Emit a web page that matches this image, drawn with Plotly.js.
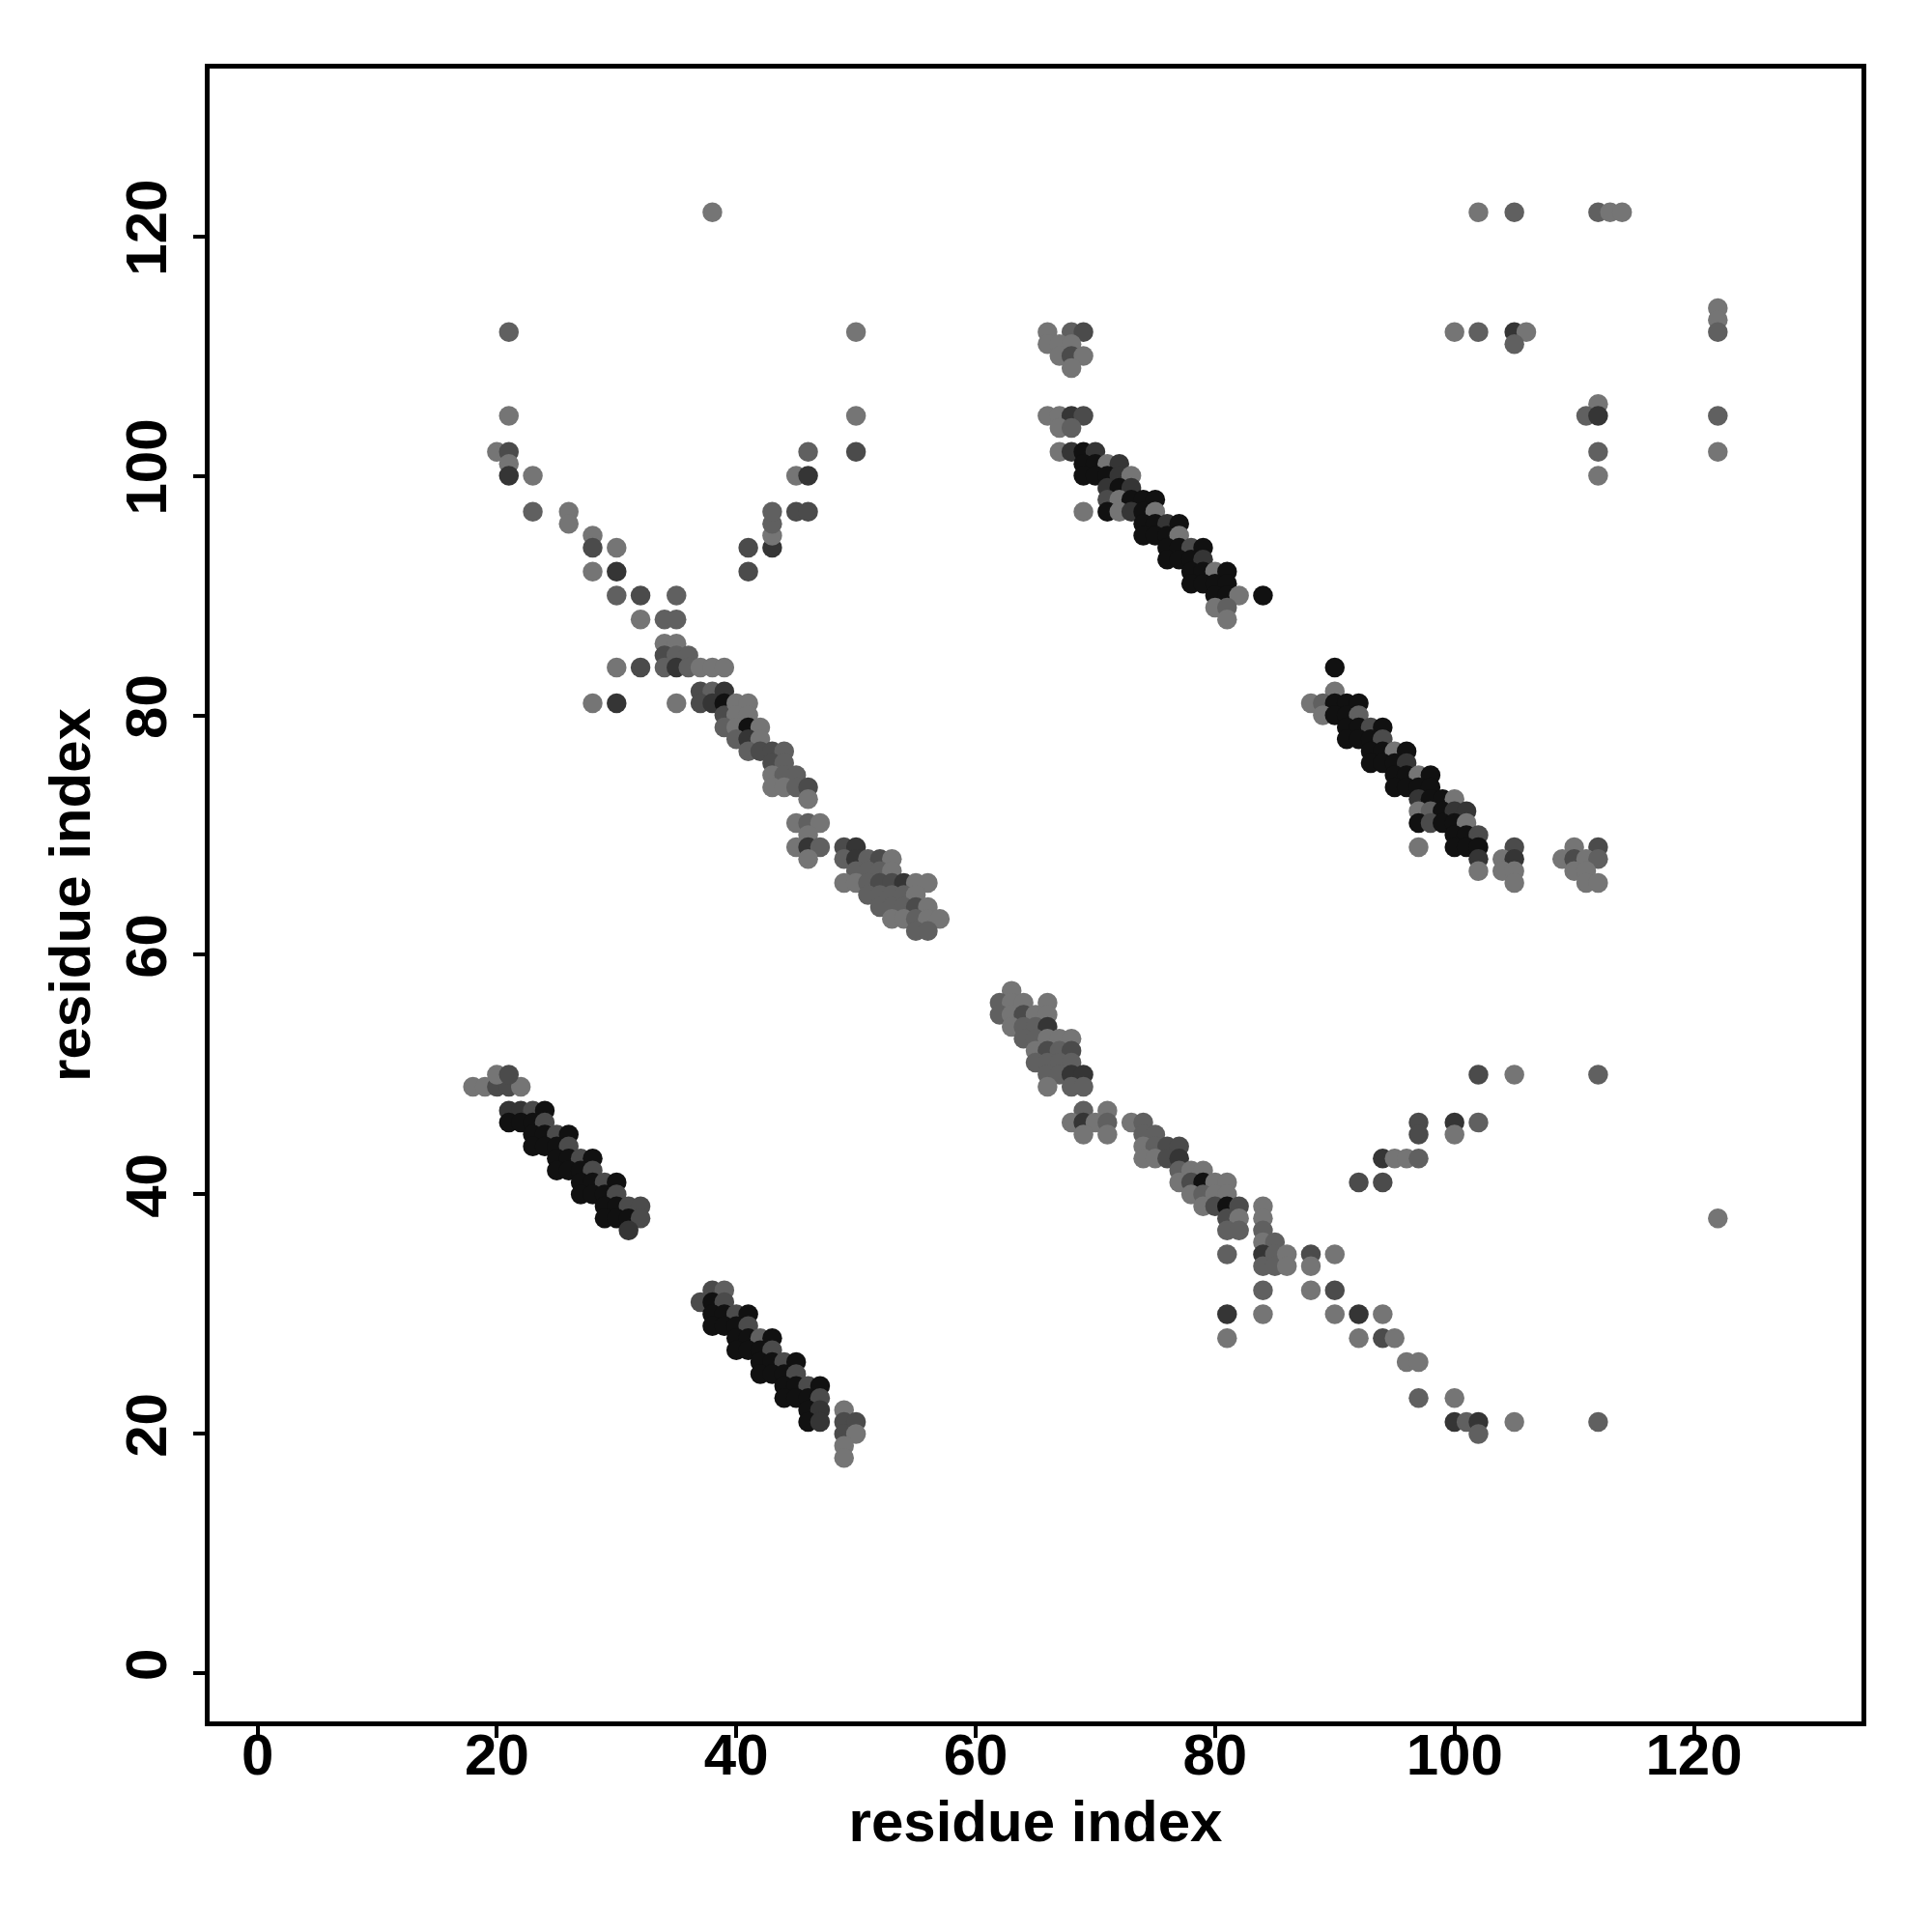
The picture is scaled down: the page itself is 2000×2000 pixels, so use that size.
<!DOCTYPE html>
<html>
<head>
<meta charset="utf-8">
<script src="https://cdn.plot.ly/plotly-3.0.1.min.js"></script>
<style>html,body{margin:0;padding:0;background:#fff;}#plot{width:2000px;height:2000px;}</style>
</head>
<body>
<div id="plot"></div>
<script>
// residue i (x), residue j (y), contact probability (shade)
const resI = [
  38,21,21,20,21,21,21,23,23,26,26,28,28,30,28,30,30,32,35,32,34,35,34,35,34,35,36,
  30,32,34,35,36,37,38,39,28,30,35,37,38,39,37,38,39,39,40,41,40,41,39,40,41,42,
  40,41,42,41,42,43,44,43,44,43,44,45,43,44,45,46,46,45,46,47,46,45,46,47,46,
  49,50,49,50,51,52,53,50,51,52,53,49,50,51,52,53,54,55,56,51,52,53,54,55,
  52,53,54,55,56,53,54,55,56,57,55,56,
  41,41,43,43,43,43,45,46,45,46,46,50,50,50,
  66,68,69,66,67,68,67,68,69,68,66,67,68,69,67,68,67,68,69,70,69,70,71,72,
  69,70,71,72,73,71,72,73,69,71,72,73,74,75,71,72,73,74,75,74,75,76,77,
  74,75,76,77,76,77,78,79,76,77,78,79,78,79,80,81,78,79,80,81,80,81,82,84,80,81,81,
  102,105,112,113,114,100,102,105,106,105,122,122,122,112,111,112,122,112,122,112,
  90,90,88,89,90,91,92,89,90,91,92,91,92,93,94,91,92,93,94,93,94,95,96,
  93,94,95,96,95,96,97,98,95,96,97,98,97,98,99,100,97,98,99,100,101,
  97,98,99,100,101,100,101,102,97,100,101,102,105,102,104,105,102,104,105,105,
  110,112,109,110,111,112,110,111,111,112,
  18,19,20,21,22,20,21,21,22,23,24,21,22,23,24,23,24,25,26,23,24,25,26,
  25,26,27,28,25,26,27,28,27,28,29,30,27,28,29,30,29,30,31,32,29,30,31,32,31,
  38,39,37,38,39,38,39,40,41,38,39,40,41,40,41,42,43,40,41,42,43,42,43,44,45,
  42,43,44,45,44,45,46,47,44,45,46,47,46,47,46,47,49,49,50,49,50,49,49,
  63,62,63,64,66,62,63,64,65,66,63,64,65,66,64,65,66,67,68,65,66,67,68,
  65,66,67,68,66,67,68,69,66,68,69,69,71,68,69,70,71,69,71,73,74,74,75,
  74,75,76,77,74,75,76,77,77,78,79,77,78,79,80,81,78,79,80,81,79,80,81,82,
  81,82,81,82,81,81,81,84,84,84,84,85,84,85,84,85,84,84,
  102,105,112,97,100,102,97,100,94,95,96,97,92,94,86,88,90,86,88,88,90,
  90,92,94,92,94,95,96,97,97,100,100,101,102,105,112,102,122
];
const resJ = [
  122,112,105,102,102,101,100,100,97,97,96,95,94,94,92,92,90,90,90,88,88,88,86,86,85,85,85,
  84,84,84,84,84,84,84,84,81,81,81,82,82,82,81,81,81,80,81,81,80,80,79,79,79,79,
  78,78,78,77,77,77,77,76,76,75,75,75,74,74,74,74,73,71,71,71,70,69,69,69,68,
  69,69,68,68,68,68,68,67,67,67,67,66,66,66,66,66,66,66,66,65,65,65,65,65,
  64,64,64,64,64,63,63,63,63,63,62,62,
  94,92,94,95,96,97,97,97,100,100,102,102,105,112,
  112,112,112,111,111,111,110,110,110,109,105,105,105,105,104,104,102,102,102,102,101,101,101,101,
  100,100,100,100,100,99,99,99,97,98,98,98,98,98,97,97,97,97,97,96,96,96,96,
  95,95,95,95,94,94,94,94,93,93,93,93,92,92,92,92,91,91,91,91,90,90,90,90,89,89,88,
  122,122,122,122,122,112,112,112,112,111,114,113,112,106,105,105,105,102,102,100,
  84,82,81,81,81,81,81,80,80,80,80,79,79,79,79,78,78,78,78,77,77,77,77,
  76,76,76,76,75,75,75,75,74,74,74,74,73,73,73,73,72,72,72,72,72,
  71,71,71,71,71,70,70,70,69,69,69,69,69,68,68,68,67,67,67,66,
  69,69,68,68,68,68,67,67,66,66,
  49,49,49,49,49,50,50,47,47,47,47,46,46,46,46,45,45,45,45,44,44,44,44,
  43,43,43,43,42,42,42,42,41,41,41,41,40,40,40,40,39,39,39,39,38,38,38,38,37,
  32,32,31,31,31,30,30,30,30,29,29,29,29,28,28,28,28,27,27,27,27,26,26,26,26,
  25,25,25,25,24,24,24,24,23,23,23,23,22,22,21,21,22,21,21,20,20,19,18,
  57,56,56,56,56,55,55,55,55,55,54,54,54,54,53,53,53,53,53,52,52,52,52,
  51,51,51,51,50,50,50,50,49,49,49,47,47,46,46,46,46,45,45,46,46,45,45,
  44,44,44,44,43,43,43,43,42,42,42,41,41,41,41,41,40,40,40,40,39,39,39,39,
  38,38,37,37,35,30,28,39,38,37,36,36,35,35,34,34,32,30,
  50,50,50,46,46,46,45,45,43,43,43,43,41,41,35,35,35,34,34,32,32,
  30,30,30,28,28,28,26,26,23,23,21,21,21,21,21,20,38
];
const prob = [
  .45,.55,.45,.45,.65,.45,.75,.45,.55,.45,.45,.45,.65,.45,.45,.75,.55,.65,.55,.45,.55,.55,.45,.45,.65,.55,.55,
  .45,.65,.55,.75,.55,.45,.45,.45,.45,.75,.45,.65,.55,.75,.65,.75,.92,.65,.45,.45,.45,.45,.55,.45,.92,.45,
  .55,.75,.45,.55,.65,.65,.55,.65,.55,.45,.55,.55,.45,.45,.55,.65,.45,.45,.55,.45,.45,.45,.75,.55,.45,
  .65,.75,.55,.75,.55,.65,.45,.55,.55,.55,.45,.45,.45,.55,.65,.65,.75,.45,.45,.55,.55,.55,.55,.45,
  .55,.55,.55,.65,.45,.45,.45,.55,.45,.45,.55,.55,
  .65,.65,.75,.45,.55,.55,.65,.65,.45,.75,.55,.65,.45,.45,
  .45,.55,.65,.45,.45,.45,.45,.65,.45,.45,.45,.45,.75,.65,.45,.55,.45,.75,.92,.75,.92,.92,.45,.75,
  .92,.92,.92,.75,.45,.75,.92,.75,.45,.65,.45,.92,.92,.92,.92,.45,.75,.92,.45,.92,.92,.75,.92,
  .92,.92,.92,.45,.92,.92,.65,.92,.92,.92,.92,.75,.92,.92,.45,.92,.92,.92,.92,.92,.92,.92,.45,.92,.45,.55,.45,
  .45,.55,.55,.45,.45,.45,.55,.75,.45,.55,.45,.45,.55,.45,.55,.75,.55,.55,.45,.45,
  .92,.45,.45,.55,.92,.92,.92,.45,.92,.92,.55,.92,.92,.65,.92,.92,.92,.92,.65,.92,.92,.45,.92,
  .92,.92,.92,.75,.92,.92,.45,.92,.92,.92,.92,.92,.75,.92,.92,.45,.45,.55,.92,.75,.75,
  .92,.65,.92,.92,.45,.92,.92,.65,.45,.92,.92,.92,.65,.75,.45,.75,.45,.45,.45,.45,
  .45,.65,.45,.65,.45,.55,.45,.45,.45,.45,
  .45,.45,.65,.65,.45,.45,.65,.75,.75,.65,.92,.92,.92,.92,.65,.92,.92,.65,.92,.92,.92,.92,.65,
  .92,.92,.65,.92,.92,.92,.92,.65,.92,.92,.65,.92,.92,.92,.92,.65,.92,.92,.65,.65,.92,.92,.92,.65,.75,
  .65,.55,.65,.92,.65,.92,.92,.65,.92,.92,.92,.92,.65,.92,.92,.55,.92,.92,.92,.92,.65,.92,.92,.65,.92,
  .92,.92,.92,.65,.92,.92,.65,.92,.92,.92,.92,.65,.92,.75,.92,.75,.45,.65,.65,.65,.45,.45,.45,
  .45,.55,.45,.45,.45,.55,.45,.65,.45,.45,.45,.55,.55,.75,.55,.55,.45,.45,.45,.45,.65,.55,.65,
  .55,.55,.55,.55,.55,.55,.75,.75,.45,.55,.55,.55,.45,.45,.75,.45,.55,.45,.45,.45,.55,.55,.55,
  .45,.55,.65,.65,.45,.45,.65,.75,.55,.45,.45,.45,.65,.92,.45,.45,.45,.55,.45,.45,.45,.65,.92,.65,
  .65,.45,.55,.55,.55,.75,.45,.45,.45,.55,.45,.55,.75,.55,.55,.55,.55,.45,
  .65,.45,.55,.65,.75,.55,.65,.45,.75,.45,.45,.55,.65,.65,.45,.65,.45,.45,.45,.45,.65,
  .45,.75,.45,.45,.65,.45,.45,.45,.55,.45,.75,.55,.75,.45,.55,.55,.45
];
const tickValues = [0, 20, 40, 60, 80, 100, 120];
const axisTitle = 'residue index';

const fontFam = '"Liberation Sans", Arial, Helvetica, sans-serif';

const trace = {
  type: 'scatter',
  mode: 'markers',
  x: resI,
  y: resJ,
  marker: {
    size: 20.5,
    color: prob,
    cmin: 0.4,
    cmax: 1.0,
    colorscale: [[0, 'rgb(128,128,128)'], [1, 'rgb(0,0,0)']],
    showscale: false,
    line: {width: 0}
  },
  hoverinfo: 'x+y'
};

const axisBase = {
  range: [-4, 134],
  tickvals: tickValues,
  ticktext: tickValues.map(String),
  ticks: 'outside',
  ticklen: 12,
  tickwidth: 4,
  tickcolor: '#000',
  showline: true,
  linewidth: 5,
  linecolor: '#000',
  mirror: true,
  showgrid: false,
  zeroline: false,
  tickfont: {family: fontFam, size: 60, color: '#000', weight: 'bold'},
  automargin: false
};

const layout = {
  width: 2000,
  height: 2000,
  margin: {l: 217, r: 73, t: 71, b: 218, pad: 0},
  paper_bgcolor: '#fff',
  plot_bgcolor: '#fff',
  showlegend: false,
  xaxis: Object.assign({}, axisBase, {
    ticklabelstandoff: -34,
    title: {text: axisTitle, font: {family: fontFam, size: 60, color: '#000', weight: 'bold'}, standoff: 16}
  }),
  yaxis: Object.assign({}, axisBase, {
    tickangle: -90,
    ticklabelstandoff: 4,
    title: {text: axisTitle, font: {family: fontFam, size: 60, color: '#000', weight: 'bold'}, standoff: 7}
  })
};

Plotly.newPlot('plot', [trace], layout, {displayModeBar: false, staticPlot: true});
</script>
</body>
</html>
